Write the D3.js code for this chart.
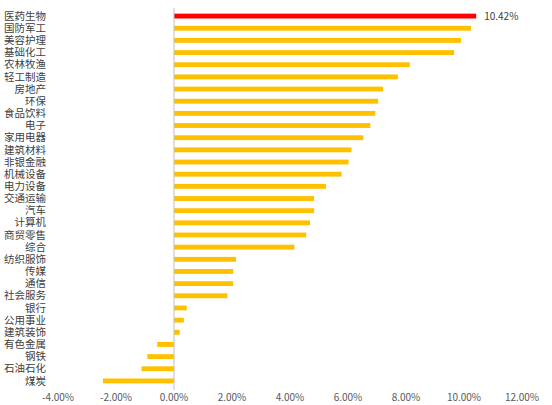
<!DOCTYPE html>
<html><head><meta charset="utf-8">
<script src="https://cdn.jsdelivr.net/npm/d3@7"></script>
<style>body{margin:0;background:#fff}text{font-family:"Noto Sans CJK SC",sans-serif}</style>
</head><body><svg id="c" width="552" height="405"></svg>
<script>
const categories = ["医药生物","国防军工","美容护理","基础化工","农林牧渔","轻工制造","房地产","环保","食品饮料","电子","家用电器","建筑材料","非银金融","机械设备","电力设备","交通运输","汽车","计算机","商贸零售","综合","纺织服饰","传媒","通信","社会服务","银行","公用事业","建筑装饰","有色金属","钢铁","石油石化","煤炭"];
const values = [10.42,10.24,9.9,9.66,8.13,7.72,7.21,7.04,6.94,6.77,6.53,6.12,6.02,5.78,5.24,4.83,4.83,4.69,4.56,4.15,2.14,2.04,2.04,1.84,0.44,0.34,0.2,-0.58,-0.92,-1.12,-2.45];
const ticks = [-4,-2,0,2,4,6,8,10,12];

const svg = d3.select("#c");
const x = d3.scaleLinear().domain([-4, 12]).range([58, 522]);
const y = d3.scaleBand().domain(categories).range([10, 387]).paddingInner(0.6).paddingOuter(0.3);

svg.selectAll("rect").data(values).join("rect")
  .attr("x", d => x(Math.min(0, d)))
  .attr("width", d => Math.abs(x(d) - x(0)))
  .attr("y", (d, i) => y(categories[i]))
  .attr("height", y.bandwidth())
  .attr("fill", (d, i) => i === 0 ? "#ff0000" : "#ffc000");

svg.append("line").attr("x1", x(0)).attr("x2", x(0)).attr("y1", 8).attr("y2", 390)
  .attr("stroke", "#bfbfbf");

svg.selectAll(".cat").data(categories).join("text")
  .attr("x", 46).attr("y", d => y(d) + y.bandwidth() / 2)
  .attr("dy", "0.35em").attr("text-anchor", "end")
  .attr("font-size", 10.5).attr("fill", "#404040").text(d => d);

svg.selectAll(".tick").data(ticks).join("text")
  .attr("x", d => x(d)).attr("y", 401)
  .attr("text-anchor", "middle").attr("font-size", 10).attr("fill", "#595959")
  .text(d => d.toFixed(2) + "%");

svg.append("text").attr("x", x(values[0]) + 8).attr("y", y(categories[0]) + y.bandwidth() / 2)
  .attr("dy", "0.35em").attr("font-size", 10).attr("fill", "#404040")
  .text(values[0].toFixed(2) + "%");
</script></body></html>
